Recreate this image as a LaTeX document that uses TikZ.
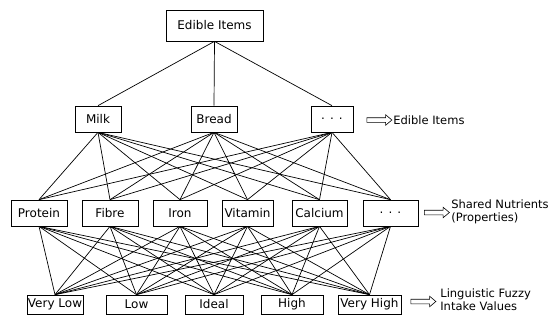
\documentclass[tikz,border=0pt]{standalone}
\usepackage{fontspec}
\setmainfont{DejaVu Sans}
\usetikzlibrary{shapes.arrows}

\begin{document}
\begin{tikzpicture}[x=1pt,y=-1pt,line width=0.7pt,
  box/.style={draw,rectangle,fill=white,inner sep=1pt,font=\fontsize{12}{13}\selectfont},
  hint/.style={single arrow,draw,line width=0.6pt,inner xsep=0pt,inner ysep=2pt,minimum height=25pt,single arrow head extend=3pt,single arrow tip angle=80},
  note/.style={anchor=west,align=left,inner sep=0pt,font=\fontsize{11.5}{13}\selectfont}]
\useasboundingbox (0,0) rectangle (558,324);
\node[box,minimum width=97pt,minimum height=31pt] (top) at (214.5,25.5) {Edible Items};
% edible items
\foreach \t/\x/\w [count=\i] in {Milk/98/46,Bread/214/46,{. . .}/332/42} {
   \node[box,minimum width=\w pt,minimum height=26pt] (I\i) at (\x,119) {\t};
   \draw (top.south) -- (I\i.north);
}
% shared nutrients
\foreach \t/\x/\w [count=\i] in {Protein/39/56,Fibre/110/56,Iron/180/54,Vitamin/247.5/51,Calcium/319.5/55,{. . .}/390.5/55} {
   \node[box,minimum width=\w pt,minimum height=26pt] (N\i) at (\x,213) {\t};
}
% fuzzy intake values
\foreach \t/\x/\w [count=\i] in {Very Low/55/56,Low/136.5/61,Ideal/214/58,High/292/62,Very High/369.5/63} {
   \node[box,minimum width=\w pt,minimum height=19pt] (V\i) at (\x,304.5) {\t};
}
\foreach \i in {1,2,3} {
  \foreach \j in {1,...,6} {
    \draw (I\i.south) -- (N\j.north);
  }
}
\foreach \i in {1,...,6} {
  \foreach \j in {1,...,5} {
    \draw (N\i.south) -- (V\j.north);
  }
}
\node[hint] (arrI) at (378,120) {};
\node[note] (labI) at (393,120) {Edible Items};
\node[hint] (arrN) at (435.5,212.5) {};
\node[note] (labN) at (451,211.5) {Shared Nutrients\\(Properties)};
\node[hint] (arrV) at (422,301.5) {};
\node[note] (labV) at (440,300) {Linguistic Fuzzy\\Intake Values};
\end{tikzpicture}
\end{document}
